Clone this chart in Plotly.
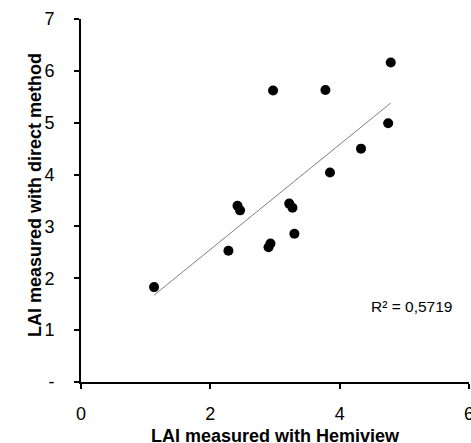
import numpy as np
import plotly.graph_objects as go

hemiview = [1.13, 2.28, 2.42, 2.46, 2.97, 3.78, 4.79, 4.75, 4.33, 3.85, 3.22, 3.27, 2.93, 2.90, 3.30]
direct   = [1.83, 2.53, 3.40, 3.31, 5.62, 5.63, 6.16, 4.99, 4.50, 4.04, 3.44, 3.36, 2.67, 2.60, 2.86]

x_ticks = [0, 2, 4, 6]
x_ticklabels = ["0", "2", "4", "6"]
y_ticks = [0, 1, 2, 3, 4, 5, 6, 7]
y_ticklabels = ["-", "1", "2", "3", "4", "5", "6", "7"]
r2_label = "R² = 0,5719"
x_title = "LAI measured with Hemiview"
y_title = "LAI measured with direct method"

W, H = 471, 443
ml, mr, mt, mb = 81, 2, 19, 61

xa = np.array(hemiview)
ya = np.array(direct)
slope, intercept = np.polyfit(xa, ya, 1)
fit_x = [xa.min(), xa.max()]
fit_y = [slope * v + intercept for v in fit_x]

fig = go.Figure()
fig.add_trace(go.Scatter(x=fit_x, y=fit_y, mode="lines",
                         line=dict(color="#7f7f7f", width=1), hoverinfo="skip"))
fig.add_trace(go.Scatter(x=hemiview, y=direct, mode="markers",
                         marker=dict(color="black", size=10)))

font = "Liberation Sans, Arial, sans-serif"
fig.update_layout(
    width=W, height=H, margin=dict(l=ml, r=mr, t=mt, b=mb, autoexpand=False),
    paper_bgcolor="white", plot_bgcolor="white", showlegend=False,
    font=dict(family=font, color="black", size=18),
    xaxis=dict(range=[0, 6], tickvals=x_ticks, ticktext=x_ticklabels, automargin=False,
               showgrid=False, zeroline=False, showline=True, linecolor="black",
               linewidth=2, ticks="outside", ticklen=5, tickwidth=1.5, tickcolor="black",
               tickfont=dict(size=18), ticklabelstandoff=9, ticklabeloverflow="allow"),
    yaxis=dict(range=[0, 7], tickvals=y_ticks, ticktext=y_ticklabels, automargin=False,
               showgrid=False, zeroline=False, showline=True, linecolor="black",
               linewidth=2, ticks="outside", ticklen=5, tickwidth=1.5, tickcolor="black",
               tickfont=dict(size=18), ticklabelstandoff=16, ticklabeloverflow="allow"),
)

pw = W - ml - mr
ph = H - mt - mb
fig.add_annotation(text="<b>" + x_title + "</b>", xref="paper", yref="paper",
                   x=(275 - ml) / pw, y=-(436 - (H - mb)) / ph, showarrow=False,
                   font=dict(size=18, family=font), xanchor="center", yanchor="middle")
fig.add_annotation(text="<b>" + y_title + "</b>", xref="paper", yref="paper",
                   x=(35 - ml) / pw, y=((H - mb) - 195) / ph, showarrow=False, textangle=-90,
                   font=dict(size=18, family=font), xanchor="center", yanchor="middle")
fig.add_annotation(text=r2_label, xref="paper", yref="paper",
                   x=(369 - ml) / pw, y=((H - mb) - 306) / ph, showarrow=False,
                   font=dict(size=15.5, family=font), xanchor="left", yanchor="middle")

fig.write_html("out.html", config={"displayModeBar": False},
               post_script="document.body.style.margin='0';document.body.style.overflow='hidden';")
